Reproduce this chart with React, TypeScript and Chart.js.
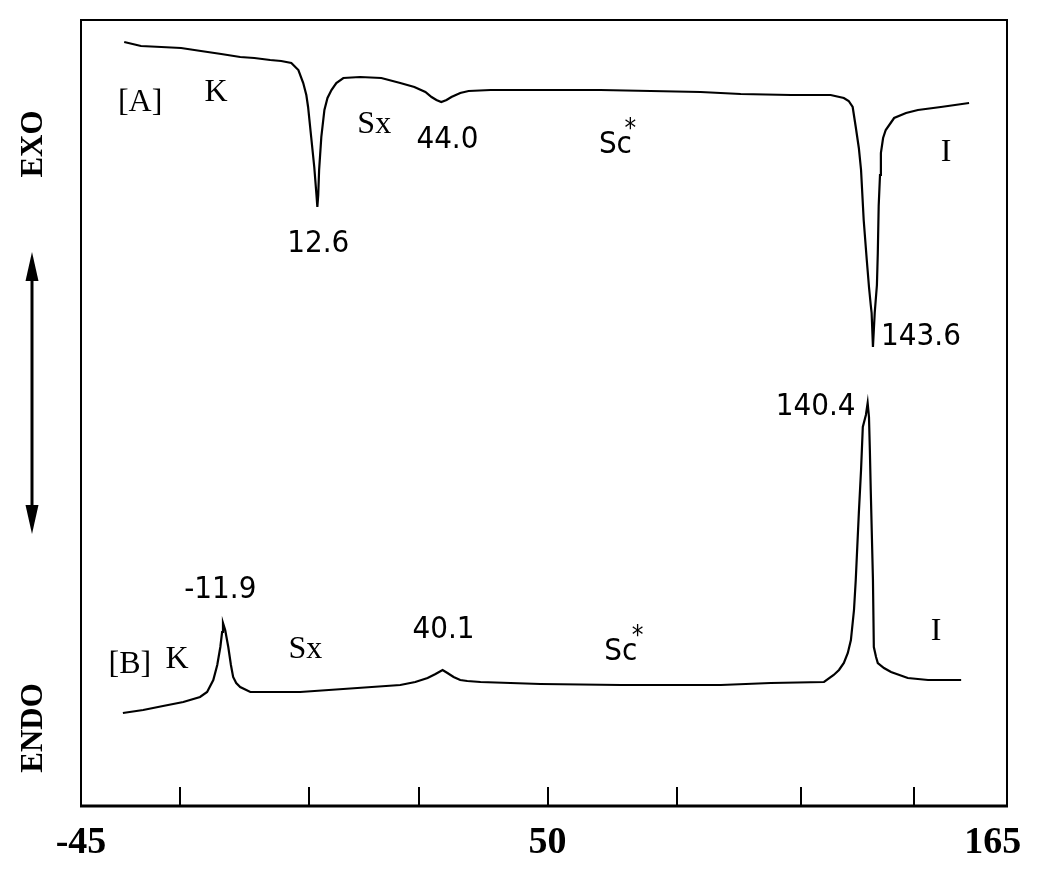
import React, { useEffect, useRef } from "react";
import { Chart, registerables } from "chart.js";

Chart.register(...registerables);

// ---- Data (temperature in °C, heat flow in arbitrary units) ----
const X_MIN = -45;
const X_MAX = 165;
const X_TICK_LABELS = ["-45", "50", "165"];
const X_TICK_MARKS = [-22.5, 6.8, 31.7, 60.8, 90.1, 118.2, 143.9];

// Curve [A] (heating)
const A_TEMP = [
  -35.2, -31.4, -26.8, -22.3, -17.8, -13.2, -8.9, -5.7, -2.1, 0.4, 2.7, 4.3, 5.4, 6.1, 6.5, 7.2, 7.9, 8.4, 8.6,
  8.8, 9.0, 9.5, 10.2, 10.9, 11.8, 12.9, 14.5, 18.3, 23.1, 27.4, 30.6, 33.1, 34.5, 35.6, 36.7, 37.9, 39.0, 41.0,
  42.9, 47.9, 53.3, 64.0, 72.8, 84.2, 95.5, 104.6, 116.0, 125.0, 128.0, 129.1, 130.0, 130.7, 131.4, 131.9, 132.5,
  133.2, 133.7, 134.1, 134.3, 134.6, 134.8, 135.0, 135.5, 135.7, 135.9, 136.2, 136.4, 136.9, 137.5, 139.4, 142.1,
  144.8, 150.0, 156.4,
];
const A_FLOW = [
  76.4, 76.0, 75.9, 75.8, 75.5, 75.2, 74.9, 74.8, 74.6, 74.5, 74.3, 73.6, 72.3, 71.1, 69.9, 66.9, 63.9, 61.1, 59.9,
  61.1, 63.6, 66.9, 69.6, 70.8, 71.6, 72.3, 72.8, 72.9, 72.8, 72.3, 71.9, 71.4, 70.9, 70.6, 70.4, 70.6, 70.9, 71.3,
  71.5, 71.6, 71.6, 71.6, 71.6, 71.5, 71.4, 71.2, 71.1, 71.1, 70.8, 70.5, 69.9, 67.9, 65.8, 63.6, 58.6,
  54.6, 51.9, 50.1, 49.3, 45.9, 47.6, 49.3, 52.1, 55.3, 60.0, 63.1, 65.3, 66.8, 67.6, 68.8, 69.3,
  69.6, 69.9, 70.3,
];

// Curve [B] (cooling)
const B_TEMP = [
  -35.5, -30.9, -26.4, -21.8, -18.0, -16.4, -15.0, -14.1, -13.4, -13.0, -12.8, -12.3, -11.6, -11.0, -10.5, -9.8,
  -8.9, -6.6, 4.7, 17.7, 27.4, 30.8, 33.6, 35.4, 37.0, 38.1, 39.5, 41.0, 42.6, 45.6, 59.2, 77.4, 100.1, 111.4,
  123.5, 125.7, 126.9, 128.0, 128.9, 129.6, 130.3, 130.7, 131.4, 131.9, 132.3, 133.0, 133.4, 133.7, 133.9, 134.1,
  134.6, 134.8, 135.3, 135.7, 137.1, 138.7, 142.5, 147.1, 154.6,
];
const B_FLOW = [
  9.3, 9.6, 10.0, 10.4, 10.9, 11.4, 12.6, 14.1, 15.9, 17.4, 18.3, 17.6, 15.9, 14.1, 12.9, 12.3,
  11.9, 11.4, 11.4, 11.8, 12.1, 12.4, 12.8, 13.2, 13.6, 13.3, 12.9, 12.6, 12.5, 12.4, 12.2, 12.1, 12.1, 12.3,
  12.4, 13.1, 13.6, 14.3, 15.3, 16.6, 19.6, 22.6, 29.3, 33.6, 37.9, 39.1, 40.3, 38.9, 35.6, 31.6,
  22.6, 15.9, 14.9, 14.3, 13.8, 13.4, 12.8, 12.6, 12.6,
];

// Text annotations placed in data coordinates
const ANNOTATIONS = [
  { text: "[A]", x: -31.6, y: 70.3, kind: "serif" },
  { text: "K", x: -14.4, y: 71.3, kind: "serif" },
  { text: "Sx", x: 21.5, y: 68.1, kind: "serif" },
  { text: "44.0", x: 38.1, y: 66.6, kind: "sans" },
  { text: "12.6", x: 8.8, y: 56.2, kind: "sans" },
  { text: "Sc", x: 76.2, y: 66.1, kind: "sans" },
  { text: "*", x: 79.6, y: 67.6, kind: "sup" },
  { text: "I", x: 151.2, y: 65.3, kind: "serif" },
  { text: "143.6", x: 145.5, y: 46.9, kind: "sans" },
  { text: "-11.9", x: -13.4, y: 21.6, kind: "sans" },
  { text: "[B]", x: -33.9, y: 14.1, kind: "serif" },
  { text: "K", x: -23.2, y: 14.6, kind: "serif" },
  { text: "Sx", x: 5.9, y: 15.6, kind: "serif" },
  { text: "40.1", x: 37.2, y: 17.6, kind: "sans" },
  { text: "140.4", x: 121.6, y: 39.9, kind: "sans" },
  { text: "Sc", x: 77.4, y: 15.4, kind: "sans" },
  { text: "*", x: 81.2, y: 16.9, kind: "sup" },
  { text: "I", x: 148.9, y: 17.4, kind: "serif" },
];

const SIDE_LABELS = ["EXO", "ENDO"];

const SERIF = '"Liberation Serif", "Times New Roman", "DejaVu Serif", serif';
const SANS = '"Liberation Sans Narrow", "DejaVu Sans Condensed", "Liberation Sans", Arial, sans-serif';

const toPoints = (xs: number[], ys: number[]) => xs.map((x, i) => ({ x, y: ys[i] }));

const decorPlugin = {
  id: "decor",
  afterDatasetsDraw(chart: any) {
    const { ctx, chartArea, scales } = chart;
    const xs = scales.x;
    const ys = scales.y;
    ctx.save();
    ctx.strokeStyle = "#000";
    ctx.fillStyle = "#000";

    // frame
    ctx.lineWidth = 2;
    ctx.beginPath();
    ctx.moveTo(chartArea.left, chartArea.bottom);
    ctx.lineTo(chartArea.left, chartArea.top);
    ctx.lineTo(chartArea.right, chartArea.top);
    ctx.lineTo(chartArea.right, chartArea.bottom);
    ctx.stroke();
    ctx.lineWidth = 3;
    ctx.beginPath();
    ctx.moveTo(chartArea.left - 1, chartArea.bottom);
    ctx.lineTo(chartArea.right + 1, chartArea.bottom);
    ctx.stroke();

    // inward tick marks
    ctx.lineWidth = 2;
    X_TICK_MARKS.forEach((v) => {
      const px = Math.round(xs.getPixelForValue(v));
      ctx.beginPath();
      ctx.moveTo(px, chartArea.bottom);
      ctx.lineTo(px, chartArea.bottom - 19);
      ctx.stroke();
    });

    // annotations
    ctx.textAlign = "center";
    ctx.textBaseline = "middle";
    ANNOTATIONS.forEach((a) => {
      if (a.kind === "serif") ctx.font = `32px ${SERIF}`;
      else if (a.kind === "sans") ctx.font = `31px ${SANS}`;
      else ctx.font = `26px ${SANS}`;
      ctx.fillText(a.text, xs.getPixelForValue(a.x), ys.getPixelForValue(a.y));
    });

    // side labels
    ctx.font = `bold 31px ${SERIF}`;
    const sidePos = [144, 728];
    SIDE_LABELS.forEach((t, i) => {
      ctx.save();
      ctx.translate(34, sidePos[i]);
      ctx.rotate(-Math.PI / 2);
      ctx.fillText(t, 0, 0);
      ctx.restore();
    });

    // double arrow
    const ax = 32;
    ctx.lineWidth = 3;
    ctx.beginPath();
    ctx.moveTo(ax, 278);
    ctx.lineTo(ax, 508);
    ctx.stroke();
    ctx.beginPath();
    ctx.moveTo(ax, 252);
    ctx.lineTo(ax - 6.5, 281);
    ctx.lineTo(ax + 6.5, 281);
    ctx.closePath();
    ctx.fill();
    ctx.beginPath();
    ctx.moveTo(ax, 534);
    ctx.lineTo(ax - 6.5, 505);
    ctx.lineTo(ax + 6.5, 505);
    ctx.closePath();
    ctx.fill();
    ctx.restore();
  },
};

export default function App() {
  const canvasRef = useRef<HTMLCanvasElement | null>(null);

  useEffect(() => {
    document.body.style.margin = "0";
    document.body.style.background = "#fff";
    const canvas = canvasRef.current;
    if (!canvas) return;
    const chart = new Chart(canvas, {
      type: "line",
      data: {
        datasets: [
          {
            label: "[A]",
            data: toPoints(A_TEMP, A_FLOW),
            borderColor: "#000",
            borderWidth: 2.2,
            pointRadius: 0,
            tension: 0,
            fill: false,
          },
          {
            label: "[B]",
            data: toPoints(B_TEMP, B_FLOW),
            borderColor: "#000",
            borderWidth: 2.2,
            pointRadius: 0,
            tension: 0,
            fill: false,
          },
        ],
      },
      options: {
        responsive: false,
        maintainAspectRatio: false,
        devicePixelRatio: 1,
        animation: false,
        parsing: false as any,
        layout: { padding: { left: 81, right: 33, top: 20, bottom: 0 } },
        plugins: {
          legend: { display: false },
          tooltip: { enabled: false },
          title: { display: false },
        },
        scales: {
          x: {
            type: "linear",
            min: X_MIN,
            max: X_MAX,
            grid: { display: false, drawTicks: false },
            border: { display: false },
            afterBuildTicks: (scale: any) => {
              scale.ticks = [X_MIN, ...X_TICK_MARKS, X_MAX].map((v) => ({ value: v }));
            },
            afterFit: (scale: any) => {
              scale.height = 72;
              scale.paddingLeft = 0;
              scale.paddingRight = 0;
            },
            ticks: {
              autoSkip: false,
              maxRotation: 0,
              minRotation: 0,
              padding: 14,
              color: "#000",
              font: { family: SERIF, size: 38, weight: "bold" },
              callback: (_v: any, i: number) => {
                if (i === 0) return X_TICK_LABELS[0];
                if (i === 4) return X_TICK_LABELS[1];
                if (i === X_TICK_MARKS.length + 1) return X_TICK_LABELS[2] + "   ";
                return "";
              },
            },
          },
          y: {
            type: "linear",
            display: false,
            min: 0,
            max: 78.6,
          },
        },
      },
      plugins: [decorPlugin],
    });
    return () => chart.destroy();
  }, []);

  return (
    <div style={{ width: 1040, height: 878, background: "#fff" }}>
      <canvas ref={canvasRef} width={1040} height={878} style={{ display: "block" }} />
    </div>
  );
}
